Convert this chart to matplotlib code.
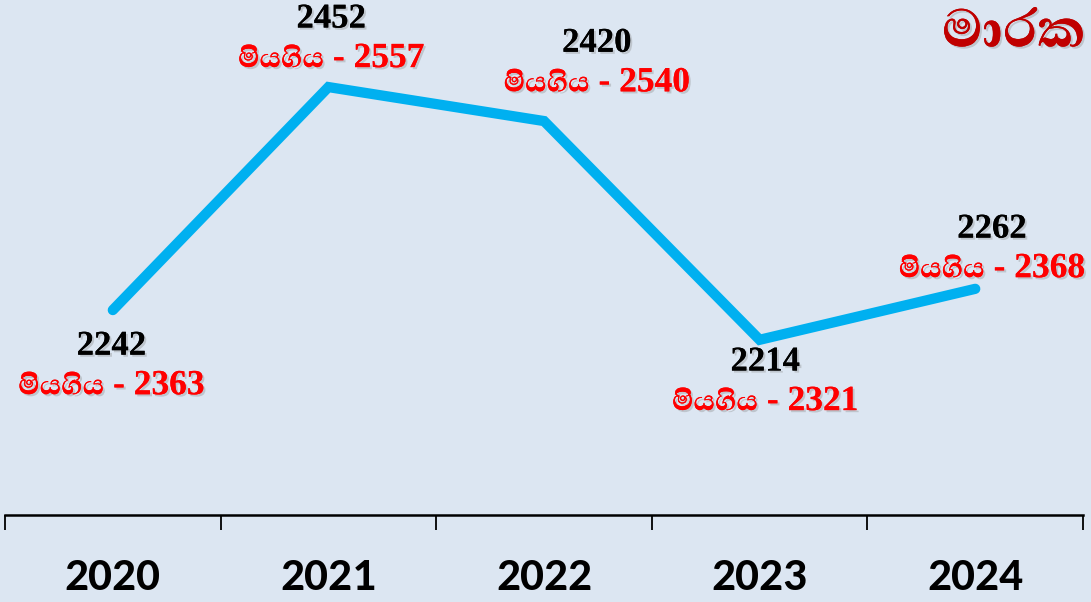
import matplotlib
matplotlib.use("Agg")
import matplotlib.pyplot as plt
import matplotlib.patheffects as pe

# data
years = ["2020", "2021", "2022", "2023", "2024"]
accidents = [2242, 2452, 2420, 2214, 2262]
deaths = [2363, 2557, 2540, 2321, 2368]
title = "මාරක"
died_label = "මියගිය"

# label offsets in points (black value) from each point; red goes below
offsets = [(-1, -26), (2, 49), (38, 56), (4, -16), (12, 43)]

bg = "#dce6f2"
line_col = "#00b0f0"

fig = plt.figure(figsize=(10.91, 6.02), dpi=100, facecolor=bg)
ax = fig.add_axes([0.0046, 0.1445, 0.9881, 0.8555])
ax.set_facecolor(bg)

x = [i + 0.5 for i in range(len(years))]
ax.plot(x, accidents, color=line_col, lw=7.4, solid_capstyle="round", solid_joinstyle="miter")

ax.set_xlim(0, 5)
ax.set_ylim(2049, 2534)
for s in ["top", "right", "left"]:
    ax.spines[s].set_visible(False)
ax.spines["bottom"].set_linewidth(1.8)
ax.set_yticks([])
ax.set_xticks(range(6))
ax.set_xticklabels([])
ax.set_xticks(x, minor=True)
ax.set_xticklabels(years, minor=True, fontsize=34, fontweight="bold",
                   family=["Carlito", "Open Sans", "DejaVu Sans"])
ax.tick_params(axis="x", which="major", length=11, width=1.3, direction="out")
ax.tick_params(axis="x", which="minor", length=0, pad=30)

shadow = [pe.withSimplePatchShadow(offset=(1.5, -1.5), shadow_rgbFace="#888888", alpha=0.35), pe.Normal()]
serif = ["Liberation Serif", "Abhaya Libre", "Noto Serif Sinhala"]

for xi, a, d, (dx, dy) in zip(x, accidents, deaths, offsets):
    ax.annotate(str(a), (xi, a), xytext=(dx, dy), textcoords="offset points",
                ha="center", va="center", fontsize=25, fontweight="bold",
                color="black", family=serif, path_effects=shadow)
    ax.annotate(died_label + " - " + str(d), (xi, a), xytext=(dx, dy - 28.5), textcoords="offset points",
                ha="center", va="center", fontsize=25.5, fontweight="bold",
                color="#ff0000", family=serif, path_effects=shadow)

fig.text(0.995, 0.948, title, ha="right", va="center", fontsize=49, fontweight="bold",
         color="#c00000", family=["Abhaya Libre", "Noto Serif Sinhala"], path_effects=shadow)

fig.savefig("out.png", facecolor=bg)
